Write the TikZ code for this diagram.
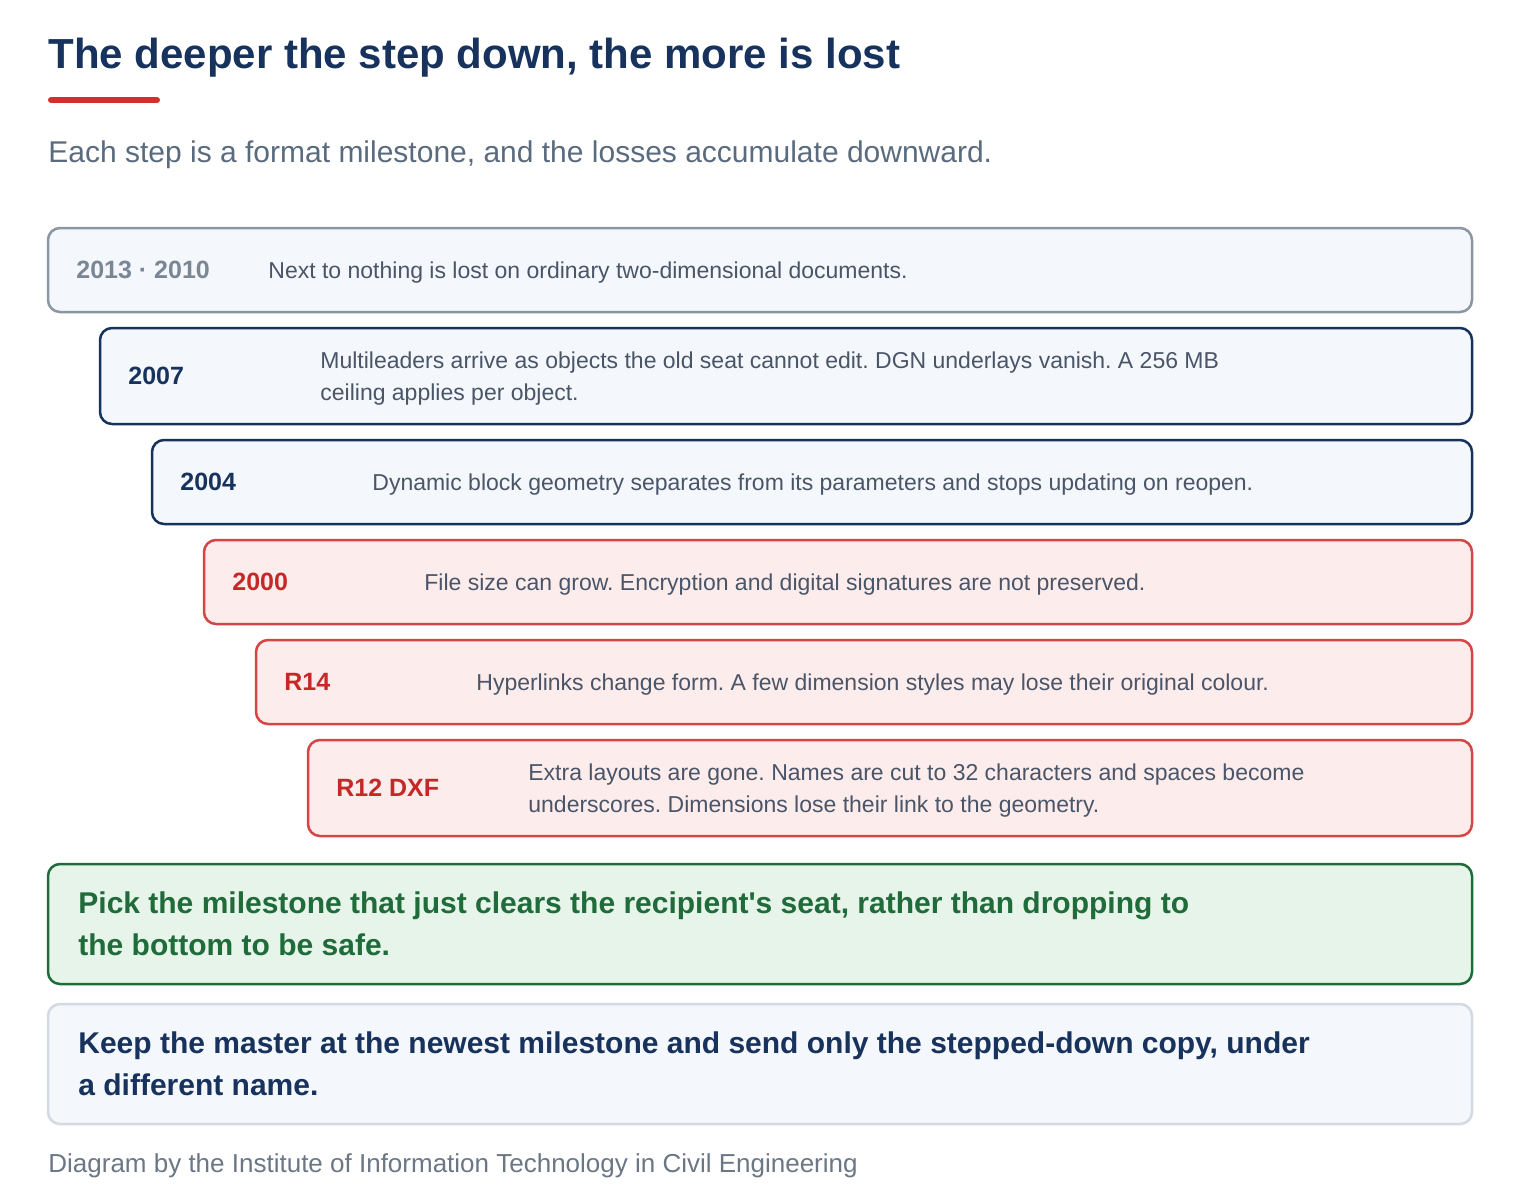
\documentclass[tikz,border=0pt]{standalone}
\usepackage{fontspec}
\setmainfont{Liberation Sans}
\usetikzlibrary{positioning}
\frenchspacing

\definecolor{navy}{HTML}{17325C}
\definecolor{accent}{HTML}{D32F2F}
\definecolor{subgray}{HTML}{5B6B7E}
\definecolor{descgray}{HTML}{4A5568}
\definecolor{oldline}{HTML}{8A96A3}
\definecolor{oldtext}{HTML}{7A8694}
\definecolor{paleblue}{HTML}{F4F7FB}
\definecolor{lossline}{HTML}{D64545}
\definecolor{losstext}{HTML}{C62828}
\definecolor{pink}{HTML}{FCECEC}
\definecolor{okline}{HTML}{1F6B3A}
\definecolor{okfill}{HTML}{E7F4EA}
\definecolor{lastline}{HTML}{D3DAE2}
\definecolor{footgray}{HTML}{6B7785}

\tikzset{
  box/.style={rounded corners=6pt,line width=1.25pt,inner sep=0pt,outer sep=0pt,anchor=north west},
  old step/.style={box,draw=oldline,fill=paleblue},
  navy step/.style={box,draw=navy,fill=paleblue},
  red step/.style={box,draw=lossline,fill=pink},
  old year/.style={text=oldtext},
  navy year/.style={text=navy},
  red year/.style={text=losstext},
  year/.style={anchor=west,inner sep=0pt,font=\bfseries\fontsize{12.5}{15}\selectfont},
  desc/.style={anchor=west,inner sep=0pt,align=left,yshift=-1.5pt,text=descgray,font=\fontsize{11.5}{16}\selectfont},
  advice/.style={anchor=west,inner sep=0pt,align=left,font=\bfseries\fontsize{15}{21}\selectfont},
}

\begin{document}
\begin{tikzpicture}[x=0.5pt,y=-0.5pt]
  \useasboundingbox[fill=white] (0,0) rectangle (1520,1200);

  % heading
  \node[anchor=base west,inner sep=0pt,text=navy,font=\bfseries\fontsize{21}{25}\selectfont] (title) at (48,68) {The deeper the step down, the more is lost};
  \draw[accent,line width=3pt,line cap=round] (51,100) -- (157,100);
  \node[anchor=base west,inner sep=0pt,text=subgray,font=\fontsize{15}{18}\selectfont] (subtitle) at (48,162) {Each step is a format milestone, and the losses accumulate downward.};

  % Notation: index/top/height/kind/milestone/losses
  \foreach \i/\ytop/\hgt/\kind/\yr/\txt in {
      0/228/84/old/{2013 · 2010}/{Next to nothing is lost on ordinary two-dimensional documents.},
      1/328/96/navy/{2007}/{Multileaders arrive as objects the old seat cannot edit. DGN underlays vanish. A 256 MB\\ceiling applies per object.},
      2/440/84/navy/{2004}/{Dynamic block geometry separates from its parameters and stops updating on reopen.},
      3/540/84/red/{2000}/{File size can grow. Encryption and digital signatures are not preserved.},
      4/640/84/red/{R14}/{Hyperlinks change form. A few dimension styles may lose their original colour.},
      5/740/96/red/{R12 DXF}/{Extra layouts are gone. Names are cut to 32 characters and spaces become\\underscores. Dimensions lose their link to the geometry.}}{
    \pgfmathsetmacro{\w}{(1424-52*\i)*0.5}% box width in pt
    \pgfmathsetmacro{\h}{\hgt*0.5}% box height in pt
    \node[\kind\space step,minimum width=\w pt,minimum height=\h pt] (step\i) at (48+52*\i,\ytop) {};
    \node[year,\kind\space year,right=14pt of step\i.west] (year\i) {\yr};
    \node[desc,right=110pt of step\i.west] (desc\i) {\txt};
  }

  % advice
  \node[box,draw=okline,fill=okfill,minimum width=712pt,minimum height=60pt] (pick) at (48,864) {};
  \node[advice,text=okline,right=15pt of pick.west] (picktext) {Pick the milestone that just clears the recipient\textquotesingle s seat, rather than dropping to\\the bottom to be safe.};
  \node[box,draw=lastline,fill=paleblue,minimum width=712pt,minimum height=60pt] (keep) at (48,1004) {};
  \node[advice,text=navy,right=15pt of keep.west] (keeptext) {Keep the master at the newest milestone and send only the stepped-down copy, under\\a different name.};

  \node[anchor=base west,inner sep=0pt,text=footgray,font=\fontsize{13}{16}\selectfont] (credit) at (48,1172) {Diagram by the Institute of Information Technology in Civil Engineering};
\end{tikzpicture}
\end{document}
